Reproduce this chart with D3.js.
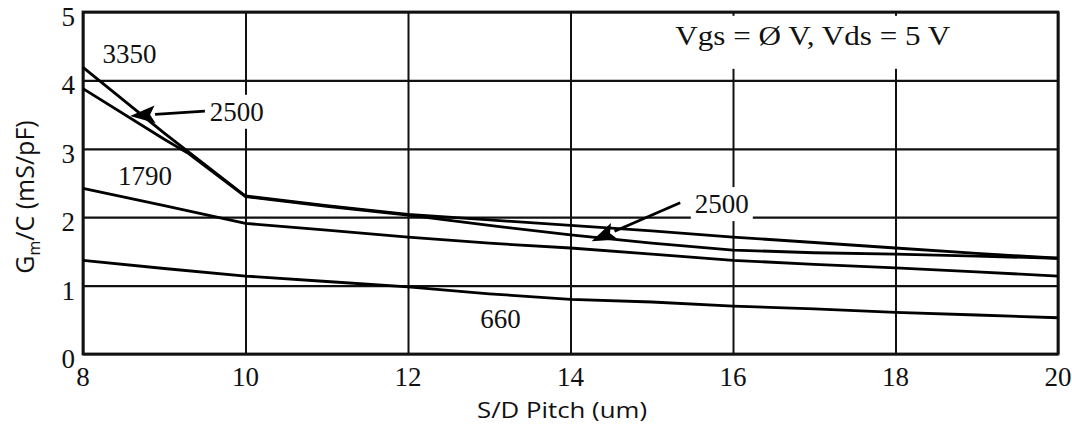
<!DOCTYPE html>
<html>
<head>
<meta charset="utf-8">
<script src="https://cdn.jsdelivr.net/npm/d3@7"></script>
<style>
  body { margin: 0; background: #fff; }
</style>
</head>
<body>
<script>
// axis ticks
const pitchTicks = [8, 10, 12, 14, 16, 18, 20];
const gmTicks = [0, 1, 2, 3, 4, 5];

// curves (x = S/D pitch um, y = Gm/C mS/pF)
const pitch3350 = [8, 9, 10, 11, 12, 13, 14, 15, 16, 17, 18, 19, 20];
const gm3350    = [4.19, 3.23, 2.31, 2.17, 2.04, 1.96, 1.88, 1.80, 1.71, 1.63, 1.55, 1.47, 1.40];

const pitch2500 = [8, 9, 9.3, 10, 11, 12, 13, 14, 15, 16, 17, 18, 19, 20];
const gm2500    = [3.88, 3.14, 2.93, 2.30, 2.16, 2.03, 1.88, 1.74, 1.62, 1.52, 1.48, 1.46, 1.43, 1.40];

const pitch1790 = [8, 9, 10, 11, 12, 13, 14, 15, 16, 17, 18, 19, 20];
const gm1790    = [2.42, 2.17, 1.91, 1.81, 1.71, 1.62, 1.55, 1.46, 1.37, 1.31, 1.26, 1.20, 1.14];

const pitch660  = [8, 9, 10, 11, 12, 13, 14, 15, 16, 17, 18, 19, 20];
const gm660     = [1.37, 1.25, 1.14, 1.06, 0.98, 0.88, 0.80, 0.76, 0.70, 0.66, 0.61, 0.57, 0.53];

// curve labels (text, x, y in data units)
const labelText = ['3350', '2500', '1790', '2500', '660'];
const labelX    = [8.24, 9.56, 8.43, 15.53, 12.89];
const labelY    = [4.25, 3.41, 2.47, 2.06, 0.38];

// arrows: tail -> tip in data units
const arrowFromX = [9.50, 15.35];
const arrowFromY = [3.55, 2.21];
const arrowToX   = [8.58, 14.26];
const arrowToY   = [3.48, 1.65];

const conditionText = 'Vgs = \u00D8 V, Vds = 5 V';

// global
var width = 1072;
var height = 425;
var margin = { top: 12, right: 14, bottom: 71, left: 83 };
var x, y, svg, gBack, gFront;

const serif = '"Liberation Serif", "DejaVu Serif", serif';
const sans = '"Open Sans", "Liberation Sans", sans-serif';

svg = d3.select('body').append('svg')
    .attr('width', width)
    .attr('height', height)
    .style('background-color', 'white');

configureScales();
drawGridlines();
gBack = svg.append('g');   // white knock-outs behind labels
drawCurves();
gFront = svg.append('g');
drawLabels();
drawArrows();
drawAxisText();

function configureScales() {
    x = d3.scaleLinear()
        .domain([8, 20])
        .range([margin.left, width - margin.right]);
    y = d3.scaleLinear()
        .domain([0, 5])
        .range([height - margin.bottom, margin.top]);
}

function drawGridlines() {
    const w = width - margin.left - margin.right;
    const h = height - margin.top - margin.bottom;

    const gx = svg.append('g')
        .attr('transform', 'translate(0,' + (height - margin.bottom) + ')')
        .call(d3.axisBottom(x).tickValues(pitchTicks).tickSize(-h).tickFormat(''));
    gx.select('.domain').remove();
    gx.selectAll('line').attr('stroke', '#111').attr('stroke-width', 2);

    const gy = svg.append('g')
        .attr('transform', 'translate(' + margin.left + ',0)')
        .call(d3.axisLeft(y).tickValues(gmTicks).tickSize(-w).tickFormat(''));
    gy.select('.domain').remove();
    gy.selectAll('line').attr('stroke', '#111').attr('stroke-width', 2.2);

    // frame
    svg.append('rect')
        .attr('x', margin.left)
        .attr('y', margin.top)
        .attr('width', w)
        .attr('height', h)
        .attr('fill', 'none')
        .attr('stroke', '#111')
        .attr('stroke-width', 2.8);
}

function drawCurves() {
    const series = [
        d3.zip(pitch3350, gm3350),
        d3.zip(pitch2500, gm2500),
        d3.zip(pitch1790, gm1790),
        d3.zip(pitch660, gm660)
    ];
    const valueLine = d3.line()
        .x(d => x(d[0]))
        .y(d => y(d[1]));

    series.forEach(s => {
        svg.append('path')
            .datum(s)
            .attr('fill', 'none')
            .attr('stroke', '#000')
            .attr('stroke-width', 2.8)
            .attr('stroke-linejoin', 'round')
            .attr('d', valueLine);
    });
}

function knockOut(node, padL, padT, padR, padB) {
    const b = node.getBBox();
    gBack.append('rect')
        .attr('x', b.x - padL)
        .attr('y', b.y - padT)
        .attr('width', b.width + padL + padR)
        .attr('height', b.height + padT + padB)
        .attr('fill', '#fff');
}

function drawLabels() {
    labelText.forEach((t, i) => {
        const lbl = gFront.append('text')
            .attr('x', x(labelX[i]))
            .attr('y', y(labelY[i]))
            .attr('font-family', serif)
            .attr('font-size', 27)
            .attr('fill', '#111')
            .text(t);
        knockOut(lbl.node(), 4, 2, 4, 2);
    });

    const cond = gFront.append('text')
        .attr('x', x(15.29))
        .attr('y', y(4.52))
        .attr('font-family', serif)
        .attr('font-size', 28)
        .attr('textLength', 275)
        .attr('lengthAdjust', 'spacingAndGlyphs')
        .attr('fill', '#111')
        .text(conditionText);
    knockOut(cond.node(), 6, 4, 6, 18);
}

function drawArrows() {
    arrowFromX.forEach((fx, i) => {
        const x0 = x(fx), y0 = y(arrowFromY[i]);
        const x1 = x(arrowToX[i]), y1 = y(arrowToY[i]);
        const a = Math.atan2(y1 - y0, x1 - x0);
        const len = 25, half = 9;
        const bx = x1 - len * Math.cos(a), by = y1 - len * Math.sin(a);

        gFront.append('line')
            .attr('x1', x0).attr('y1', y0)
            .attr('x2', bx).attr('y2', by)
            .attr('stroke', '#000')
            .attr('stroke-width', 2.8);

        gFront.append('path')
            .attr('d', d3.line()([
                [x1, y1],
                [bx - half * Math.sin(a), by + half * Math.cos(a)],
                [bx + 5 * Math.cos(a), by + 5 * Math.sin(a)],
                [bx + half * Math.sin(a), by - half * Math.cos(a)]
            ]) + 'Z')
            .attr('fill', '#000');
    });
}

function drawAxisText() {
    svg.append('g').selectAll('text')
        .data(gmTicks)
        .join('text')
        .attr('x', margin.left - 8)
        .attr('y', d => y(d) + 14)
        .attr('text-anchor', 'end')
        .attr('font-family', serif)
        .attr('font-size', 27)
        .attr('fill', '#111')
        .text(d => d);

    svg.append('g').selectAll('text')
        .data(pitchTicks)
        .join('text')
        .attr('x', d => x(d))
        .attr('y', height - margin.bottom + 32)
        .attr('text-anchor', 'middle')
        .attr('font-family', serif)
        .attr('font-size', 27)
        .attr('fill', '#111')
        .text(d => d);

    svg.append('text')
        .attr('x', 562)
        .attr('y', 418)
        .attr('text-anchor', 'middle')
        .attr('font-family', sans)
        .attr('font-size', 21)
        .attr('textLength', 170)
        .attr('lengthAdjust', 'spacingAndGlyphs')
        .attr('fill', '#111')
        .text('S/D Pitch (um)');

    const yt = svg.append('text')
        .attr('transform', 'translate(34,197) rotate(-90)')
        .attr('text-anchor', 'middle')
        .attr('font-family', sans)
        .attr('font-size', 25)
        .attr('fill', '#111');
    yt.append('tspan').text('G');
    yt.append('tspan').attr('font-size', 16).attr('dy', 6).text('m');
    yt.append('tspan').attr('dy', -6).text('/C (mS/pF)');
}
</script>
</body>
</html>
